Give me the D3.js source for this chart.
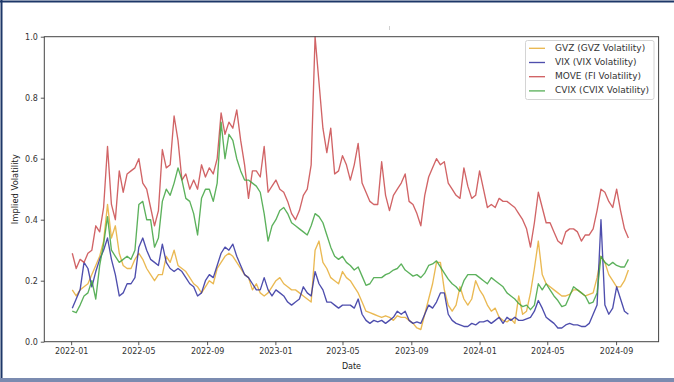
<!DOCTYPE html>
<html>
<head>
<meta charset="utf-8">
<script src="https://cdn.jsdelivr.net/npm/d3@7"></script>
<style>
  html, body { margin: 0; padding: 0; background: #ffffff; }
  svg { display: block; }
  text { font-family: "DejaVu Sans", sans-serif; }
</style>
</head>
<body>
<svg id="chart" width="674" height="382"></svg>
<script>
// Weekly observations, first one on 2022-01-03
const startDate = "2022-01-03";
const stepDays = 7;

const gvz = [
  0.17,0.15,0.17,0.18,0.19,0.22, 0.25,0.28,0.33,0.45,0.34,0.38, 0.29,0.25,0.24,0.24,0.27,0.29,
  0.27,0.24,0.22,0.20,0.22,0.22, 0.28,0.26,0.30,0.25,0.24,0.23, 0.21,0.19,0.18,0.16,0.18,0.20,
  0.19,0.24,0.26,0.28,0.29,0.28, 0.26,0.24,0.22,0.21,0.17,0.19, 0.16,0.15,0.16,0.18,0.20,0.21,
  0.19,0.18,0.17,0.17,0.16,0.15, 0.14,0.13,0.30,0.33,0.26,0.24, 0.21,0.20,0.19,0.23,0.21,0.20,
  0.18,0.16,0.13,0.10,0.095,0.09, 0.085,0.08,0.085,0.08,0.07,0.085, 0.08,0.08,0.07,0.06,0.045,0.04,
  0.09,0.14,0.19,0.26,0.26,0.17, 0.12,0.10,0.12,0.18,0.14,0.12, 0.14,0.20,0.17,0.15,0.12,
  0.10,0.11,0.08,0.07,0.065,0.075, 0.06,0.15,0.09,0.10,0.16,0.24, 0.33,0.22,0.19,0.18,0.17,0.16,
  0.15,0.15,0.155,0.17,0.17,0.16, 0.15,0.155,0.16,0.21,0.28,0.26, 0.22,0.20,0.18,0.18,0.20,0.235
];

const vix = [
  0.11,0.14,0.17,0.26,0.24,0.18, 0.23,0.27,0.30,0.34,0.27,0.22, 0.15,0.16,0.19,0.19,0.21,0.31,
  0.34,0.30,0.27,0.26,0.25,0.32, 0.26,0.24,0.23,0.24,0.23,0.21, 0.19,0.18,0.15,0.16,0.20,0.22,
  0.21,0.25,0.29,0.31,0.30,0.32, 0.28,0.25,0.22,0.21,0.19,0.17, 0.17,0.21,0.17,0.15,0.17,0.16,
  0.15,0.13,0.12,0.13,0.14,0.18, 0.16,0.15,0.23,0.19,0.17,0.13, 0.13,0.12,0.11,0.12,0.12,0.12,
  0.11,0.14,0.09,0.07,0.06,0.07, 0.065,0.07,0.06,0.07,0.08,0.10, 0.09,0.10,0.07,0.06,0.065,0.06,
  0.09,0.12,0.11,0.13,0.16,0.16, 0.09,0.07,0.06,0.055,0.05,0.05, 0.06,0.055,0.065,0.065,0.07,
  0.06,0.07,0.08,0.06,0.08,0.07, 0.08,0.07,0.07,0.075,0.08,0.10, 0.135,0.11,0.08,0.07,0.06,0.045,
  0.045,0.055,0.06,0.055,0.055,0.05, 0.05,0.06,0.09,0.12,0.40,0.12, 0.09,0.11,0.18,0.14,0.10,0.09
];

const move = [
  0.29,0.24,0.27,0.26,0.29,0.30, 0.38,0.36,0.44,0.64,0.45,0.40, 0.56,0.49,0.55,0.56,0.57,0.60,
  0.52,0.50,0.44,0.38,0.43,0.63, 0.57,0.58,0.74,0.66,0.53,0.55, 0.50,0.53,0.50,0.58,0.54,0.57,
  0.55,0.60,0.75,0.68,0.72,0.70, 0.76,0.66,0.58,0.47,0.56,0.56, 0.54,0.64,0.49,0.51,0.53,0.50,
  0.49,0.46,0.42,0.40,0.43,0.48, 0.50,0.58,1.00,0.85,0.70,0.62, 0.70,0.55,0.56,0.61,0.58,0.53,
  0.58,0.65,0.52,0.49,0.46,0.45, 0.45,0.59,0.48,0.43,0.48,0.50, 0.52,0.55,0.46,0.45,0.42,0.38,
  0.48,0.54,0.57,0.60,0.58,0.59, 0.52,0.50,0.48,0.47,0.57,0.51, 0.47,0.48,0.56,0.50,0.44,
  0.45,0.44,0.47,0.46,0.46,0.45, 0.44,0.42,0.40,0.37,0.31,0.39, 0.49,0.44,0.39,0.39,0.36,0.33,
  0.32,0.36,0.37,0.37,0.36,0.33, 0.35,0.35,0.37,0.43,0.50,0.49, 0.46,0.44,0.50,0.43,0.37,0.34
];

const cvix = [
  0.10,0.095,0.12,0.15,0.16,0.20, 0.14,0.25,0.32,0.41,0.30,0.28, 0.26,0.27,0.28,0.27,0.30,0.45,
  0.46,0.40,0.40,0.31,0.34,0.46, 0.50,0.48,0.52,0.57,0.53,0.47, 0.46,0.42,0.35,0.47,0.50,0.50,
  0.46,0.52,0.72,0.60,0.68,0.66, 0.60,0.56,0.53,0.53,0.52,0.51, 0.49,0.42,0.33,0.38,0.40,0.43,
  0.44,0.42,0.39,0.38,0.37,0.36, 0.35,0.38,0.42,0.41,0.39,0.35, 0.31,0.28,0.27,0.28,0.26,0.25,
  0.235,0.245,0.215,0.185,0.19,0.21, 0.21,0.21,0.22,0.225,0.235,0.24, 0.255,0.235,0.225,0.215,0.22,0.21,
  0.225,0.25,0.255,0.265,0.245,0.225, 0.205,0.19,0.18,0.165,0.20,0.22, 0.22,0.22,0.21,0.20,0.19,
  0.21,0.20,0.19,0.18,0.16,0.15, 0.14,0.125,0.115,0.12,0.105,0.12, 0.19,0.17,0.19,0.17,0.15,0.135,
  0.115,0.12,0.15,0.18,0.17,0.16, 0.15,0.125,0.13,0.16,0.28,0.26, 0.25,0.26,0.25,0.245,0.245,0.27
];

const seriesNames = ["GVZ (GVZ Volatility)", "VIX (VIX Volatility)", "MOVE (FI Volatility)", "CVIX (CVIX Volatility)"];
const seriesColors = ["#e6ad35", "#2f2f9f", "#c9494b", "#3fa33f"];

const xTickLabels = ["2022-01","2022-05","2022-09","2023-01","2023-05","2023-09","2024-01","2024-05","2024-09"];
const yTickValues = [0.0, 0.2, 0.4, 0.6, 0.8, 1.0];
const xDomain = ["2021-11-14", "2024-11-16"];
const yDomain = [0, 1];

// ---- layout ----
const W = 674, H = 382;
const plot = { left: 44.3, right: 658.6, top: 36.7, bottom: 341.7 };

const svg = d3.select("#chart");
const parseDay = d3.utcParse("%Y-%m-%d");
const parseMonth = d3.utcParse("%Y-%m");

const t0 = parseDay(startDate);
const dates = gvz.map((_, i) => d3.utcDay.offset(t0, i * stepDays));

const x = d3.scaleUtc()
  .domain(xDomain.map(parseDay))
  .range([plot.left, plot.right]);
const y = d3.scaleLinear()
  .domain(yDomain)
  .range([plot.bottom, plot.top]);

// outer frame
svg.append("rect").attr("x", 0).attr("y", 0).attr("width", W).attr("height", H).attr("fill", "#ffffff");
svg.append("line").attr("x1", 0).attr("x2", W).attr("y1", 1.5).attr("y2", 1.5)
  .attr("stroke", "#1d3768").attr("stroke-width", 2);
svg.append("line").attr("x1", 1.5).attr("x2", 1.5).attr("y1", 0).attr("y2", 380)
  .attr("stroke", "#1d3768").attr("stroke-width", 2);
svg.append("rect").attr("x", 0).attr("y", 378).attr("width", W).attr("height", 4).attr("fill", "#7b8bb0");
svg.append("line").attr("x1", 389.5).attr("x2", 389.5).attr("y1", 26).attr("y2", 30)
  .attr("stroke", "#d0d0d0").attr("stroke-width", 1);

// axes
const xAxis = d3.axisBottom(x)
  .tickValues(xTickLabels.map(parseMonth))
  .tickFormat(d3.utcFormat("%Y-%m"))
  .tickSizeOuter(0).tickSize(3.5).tickPadding(3);
const yAxis = d3.axisLeft(y)
  .tickValues(yTickValues)
  .tickFormat(d3.format(".1f"))
  .tickSizeOuter(0).tickSize(3.5).tickPadding(3);

const gx = svg.append("g").attr("transform", `translate(0,${plot.bottom})`).call(xAxis);
const gy = svg.append("g").attr("transform", `translate(${plot.left},0)`).call(yAxis);
[gx, gy].forEach(g => {
  g.select(".domain").remove();
  g.selectAll(".tick line").attr("stroke", "#444").attr("stroke-width", 0.9);
  g.selectAll(".tick text").attr("fill", "#333").style("font-size", "8px")
    .style("font-family", "'DejaVu Sans', sans-serif");
});

// series lines
const line = d3.line()
  .x((d, i) => x(dates[i]))
  .y(d => y(d));

const seriesData = [gvz, vix, move, cvix];
const lines = svg.append("g");
seriesData.forEach((vals, k) => {
  lines.append("path")
    .datum(vals)
    .attr("d", line)
    .attr("fill", "none")
    .attr("stroke", seriesColors[k])
    .attr("stroke-width", 1.35)
    .attr("stroke-opacity", 0.85)
    .attr("stroke-linejoin", "round");
});

// spines
svg.append("rect")
  .attr("x", plot.left).attr("y", plot.top)
  .attr("width", plot.right - plot.left).attr("height", plot.bottom - plot.top)
  .attr("fill", "none").attr("stroke", "#444").attr("stroke-width", 1);

// axis titles
svg.append("text")
  .attr("x", (plot.left + plot.right) / 2).attr("y", 366)
  .attr("text-anchor", "middle").attr("dominant-baseline", "middle")
  .attr("fill", "#222").style("font-size", "8px")
  .text("Date");
svg.append("text")
  .attr("transform", `translate(15,${(plot.top + plot.bottom) / 2}) rotate(-90)`)
  .attr("text-anchor", "middle").attr("dominant-baseline", "middle")
  .attr("fill", "#222").style("font-size", "8.4px")
  .text("Implied Volatility");

// legend
const lg = svg.append("g");
lg.append("rect")
  .attr("x", 525.5).attr("y", 40.5).attr("width", 128.5).attr("height", 59)
  .attr("rx", 2).attr("fill", "#ffffff").attr("fill-opacity", 0.85)
  .attr("stroke", "#d4d4d4").attr("stroke-width", 1);
seriesNames.forEach((name, k) => {
  const yy = 48.3 + k * 14.2;
  lg.append("line")
    .attr("x1", 529).attr("x2", 545).attr("y1", yy).attr("y2", yy)
    .attr("stroke", seriesColors[k]).attr("stroke-width", 1.35).attr("stroke-opacity", 0.85);
  lg.append("text")
    .attr("x", 555).attr("y", yy)
    .attr("dominant-baseline", "middle")
    .attr("fill", "#333").style("font-size", "9px")
    .text(name);
});
</script>
</body>
</html>
